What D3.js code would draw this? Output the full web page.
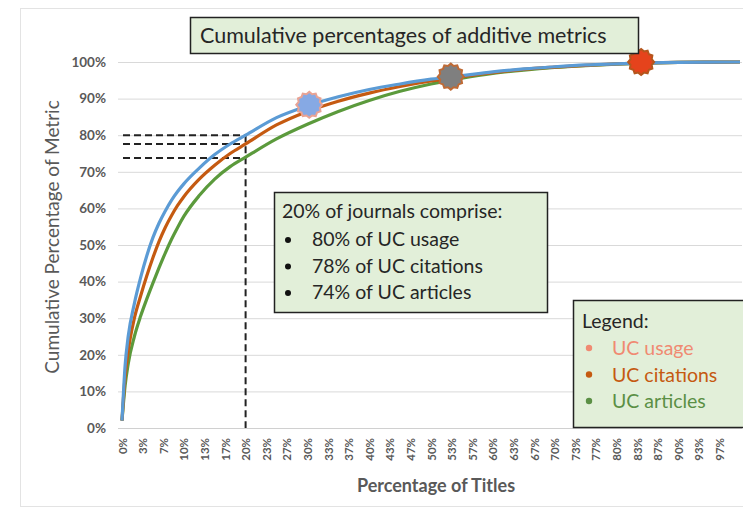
<!DOCTYPE html>
<html>
<head>
<meta charset="utf-8">
<script src="https://cdn.jsdelivr.net/npm/d3@7"></script>
<style>
  body { margin: 0; background: #fff; }
  svg { display: block; font-family: Lato, 'Open Sans', sans-serif; }
</style>
</head>
<body>
<svg id="chart" width="743" height="510"></svg>
<script>
// Percentage of titles (x) and cumulative percentage of each metric (y)
const titlePct = [0, 0.5, 1, 2, 3, 4, 5, 6, 7, 8, 9, 10, 12.5, 15, 17.5, 20, 25, 30, 35, 40, 45, 50, 55, 60, 65, 70, 75, 80, 85, 90, 95, 100]
const usagePct = [2, 17, 25, 34, 41, 47, 52, 56, 59.3, 62.2, 64.6, 66.7, 71, 74.7, 77.6, 80, 84.8, 88, 90.5, 92.5, 94, 95.3, 96.3, 97.3, 98.1, 98.7, 99.2, 99.5, 99.75, 99.9, 99.97, 100]
const citationsPct = [2, 14, 21, 30, 36, 41.5, 46.5, 51, 54.8, 58, 60.8, 63.2, 68, 71.8, 75, 77.6, 82.8, 86.5, 89.3, 91.5, 93.3, 94.8, 96, 97.1, 98, 98.6, 99.1, 99.5, 99.75, 99.9, 99.97, 100]
const articlesPct = [2, 11.5, 17.5, 25, 30.5, 35.2, 39.6, 43.8, 47.8, 51.5, 54.8, 57.8, 63.5, 68, 71.4, 74, 79, 83, 86.5, 89.5, 92, 94, 95.6, 96.9, 97.8, 98.5, 99, 99.4, 99.7, 99.9, 99.97, 100]

const seriesNames = ['UC usage', 'UC citations', 'UC articles']
const seriesColors = ['#5b9bd5', '#c55a11', '#5b9a3c']
const legendColors = ['#f08a72', '#c55a11', '#5b8f45']

// Highlight markers on the curves
const markerX = [30.3, 53.2, 84]
const markerY = [88.3, 96, 100]
const markerFill = ['#86a9e4', '#7f7f7f', '#e5431c']
const markerStroke = ['#e9a394', '#bf6a35', '#b5561d']

// 20% reference lines
const refX = 20
const refY = [80, 77.6, 73.8]

const yTicks = d3.range(0, 101, 10)
const xTickLabels = ['0%', '3%', '7%', '10%', '13%', '17%', '20%', '23%', '27%', '30%', '33%', '37%', '40%', '43%', '47%',
  '50%', '53%', '57%', '60%', '63%', '67%', '70%', '73%', '77%', '80%', '83%', '87%', '90%', '93%', '97%']

const titleText = 'Cumulative percentages of additive metrics'
const noteLines = ['80% of UC usage', '78% of UC citations', '74% of UC articles']

const svg = d3.select('#chart')
const plotLeft = 118
const plotRight = 742
const plotTop = 62
const plotBottom = 428

const x = d3.scaleLinear().domain([0, 100]).range([122, 740])
const y = d3.scaleLinear().domain([0, 100]).range([plotBottom, plotTop])

// Chart area frame
svg.append('rect')
  .attr('x', 20.5).attr('y', 8.5)
  .attr('width', 740).attr('height', 498)
  .attr('fill', 'none').attr('stroke', '#e3e3e3')

// Y axis with gridlines
const yAxis = svg.append('g')
  .attr('transform', `translate(${plotLeft},0)`)
  .call(d3.axisLeft(y).tickValues(yTicks).tickSize(-(plotRight - plotLeft)).tickPadding(12)
    .tickFormat(d => d + '%'))
yAxis.select('.domain').remove()
yAxis.selectAll('.tick line').attr('stroke', '#d9d9d9')
yAxis.selectAll('.tick text')
  .attr('fill', '#595959').attr('font-size', 13.5).attr('font-weight', 700)
  .attr('font-family', 'Lato, sans-serif')

// X axis
const xAxis = svg.append('g')
  .attr('transform', `translate(0,${plotBottom})`)
  .call(d3.axisBottom(x).tickValues(d3.range(30).map(k => k * 100 / 30)).tickSize(0)
    .tickFormat((d, i) => xTickLabels[i]))
xAxis.select('.domain').attr('stroke', '#d0d0d0').attr('d', `M${plotLeft},0.5H${plotRight}`)
xAxis.selectAll('.tick text')
  .attr('transform', 'rotate(-90)')
  .attr('text-anchor', 'end')
  .attr('x', -10).attr('y', 0).attr('dy', '0.35em')
  .attr('fill', '#595959').attr('font-size', 11.5).attr('font-weight', 700)
  .attr('font-family', 'Lato, sans-serif')

// Axis titles
svg.append('text')
  .attr('transform', `translate(59,${(plotTop + plotBottom) / 2 - 8}) rotate(-90)`)
  .attr('text-anchor', 'middle')
  .attr('fill', '#595959').attr('font-size', 19)
  .text('Cumulative Percentage of Metric')
svg.append('text')
  .attr('x', 436).attr('y', 492)
  .attr('text-anchor', 'middle')
  .attr('fill', '#595959').attr('font-size', 18).attr('font-weight', 700)
  .text('Percentage of Titles')

// Dashed reference lines at 20% of journals
const dash = svg.append('g')
  .attr('stroke', '#222').attr('stroke-width', 2).attr('stroke-dasharray', '7,4').attr('fill', 'none')
refY.forEach(v => {
  dash.append('line')
    .attr('x1', plotLeft + 5).attr('x2', x(refX))
    .attr('y1', y(v)).attr('y2', y(v))
})
dash.append('line')
  .attr('x1', x(refX)).attr('x2', x(refX))
  .attr('y1', y(d3.max(refY))).attr('y2', plotBottom)

// Curves
const line = d3.line()
  .x((d, i) => x(titlePct[i]))
  .y(d => y(d))
  .curve(d3.curveMonotoneX)

const allSeries = [articlesPct, citationsPct, usagePct]
const allColors = [seriesColors[2], seriesColors[1], seriesColors[0]]
svg.append('g').selectAll('path')
  .data(allSeries)
  .join('path')
  .attr('d', line)
  .attr('fill', 'none')
  .attr('stroke', (d, i) => allColors[i])
  .attr('stroke-width', 3.2)
  .attr('stroke-linejoin', 'round')

// Serrated badge markers
const badge = d3.lineRadial()
  .angle((d, i) => i * Math.PI / 12)
  .radius((d, i) => i % 2 === 0 ? 13 : 11)
  .curve(d3.curveLinearClosed)
svg.append('g').selectAll('path')
  .data(markerX)
  .join('path')
  .attr('transform', (d, i) => `translate(${x(d)},${y(markerY[i])})`)
  .attr('d', badge(d3.range(24)))
  .attr('fill', (d, i) => markerFill[i])
  .attr('stroke', (d, i) => markerStroke[i])
  .attr('stroke-width', 2)

// Title box
const boxFill = '#e2efd9'
svg.append('rect')
  .attr('x', 190.5).attr('y', 17.5).attr('width', 448).attr('height', 36)
  .attr('fill', boxFill).attr('stroke', '#222').attr('stroke-width', 1.5)
svg.append('text')
  .attr('x', 200).attr('y', 43)
  .attr('fill', '#262626').attr('font-size', 21.5)
  .text(titleText)

// Note box
const noteSize = 19.5
svg.append('rect')
  .attr('x', 274.5).attr('y', 192.5).attr('width', 273).attr('height', 120)
  .attr('fill', boxFill).attr('stroke', '#222').attr('stroke-width', 1.5)
svg.append('text')
  .attr('x', 282).attr('y', 218)
  .attr('fill', '#262626').attr('font-size', noteSize)
  .text('20% of journals comprise:')
noteLines.forEach((t, i) => {
  const ly = 246 + i * 26.5
  svg.append('circle').attr('cx', 288).attr('cy', ly - 6).attr('r', 3).attr('fill', '#111')
  svg.append('text')
    .attr('x', 312).attr('y', ly)
    .attr('fill', '#262626').attr('font-size', noteSize)
    .text(t)
})

// Legend box
svg.append('rect')
  .attr('x', 573.5).attr('y', 300.5).attr('width', 172).attr('height', 127)
  .attr('fill', boxFill).attr('stroke', '#222').attr('stroke-width', 1.5)
svg.append('text')
  .attr('x', 582).attr('y', 328)
  .attr('fill', '#262626').attr('font-size', noteSize)
  .text('Legend:')
seriesNames.forEach((name, i) => {
  const ly = 355 + i * 26.5
  svg.append('circle').attr('cx', 589).attr('cy', ly - 7).attr('r', 3.2).attr('fill', legendColors[i])
  svg.append('text')
    .attr('x', 612).attr('y', ly)
    .attr('fill', legendColors[i]).attr('font-size', noteSize)
    .text(name)
})
</script>
</body>
</html>
